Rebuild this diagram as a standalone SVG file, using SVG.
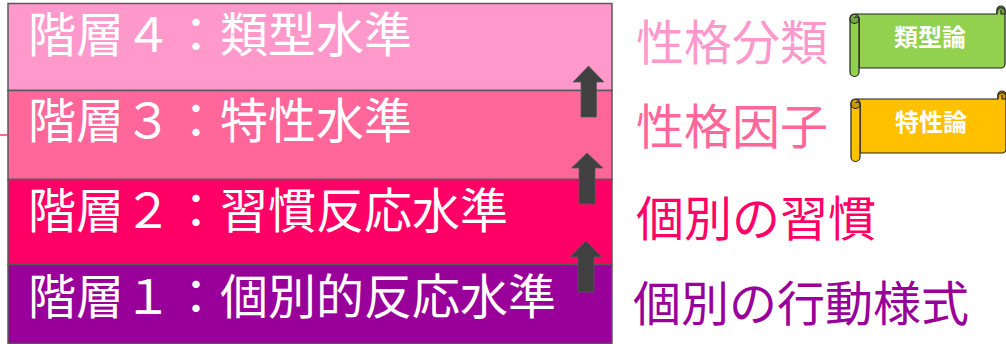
<svg xmlns="http://www.w3.org/2000/svg" width="1006" height="344" viewBox="0 0 1006 344">
<style>
.layer{stroke:#595959;stroke-width:1.5}
.t{font-family:"Noto Sans CJK JP","Noto Sans",sans-serif;font-size:48px}
.w{fill:#fff}
.arrow{fill:#404040;stroke:#595959;stroke-width:.75}
.scroll{stroke:#222;stroke-width:1.2}
.st{font-family:"Noto Sans CJK JP",sans-serif;font-size:24px;font-weight:700;fill:#fff;text-anchor:middle}
</style>
<rect width="1006" height="344" fill="#fff"/>
<g id="layer4"><rect class="layer" x="8" y="3.500" width="604" height="87" fill="#FF99CC"/><text class="t w" x="28" y="52">階層４：類型水準</text></g>
<g id="layer3"><rect class="layer" x="8" y="90.500" width="604" height="89" fill="#FF6699"/><text class="t w" x="28" y="138">階層３：特性水準</text></g>
<g id="layer2"><rect class="layer" x="8" y="179.500" width="604" height="85" fill="#FF0066"/><text class="t w" x="28" y="228">階層２：習慣反応水準</text></g>
<g id="layer1"><rect class="layer" x="8" y="264.500" width="604" height="79" fill="#990099"/><text class="t w" x="28" y="314">階層１：個別的反応水準</text></g>
<g id="connectors">
<path d="M0 135H7" stroke="#FF6699" stroke-width="2" fill="none"/>
<path class="arrow" d="M588.500 66L604 82H596.500V117H581V82H573Z"/>
<path class="arrow" d="M587 153L603 168H595V204H579V168H571.500Z"/>
<path class="arrow" d="M586 241L602 257H594V292H578V257H570Z"/>
</g>
<g id="label4"><text class="t" x="636" y="60" fill="#FF99CC">性格分類</text></g>
<g id="label3"><text class="t" x="636" y="144" fill="#FF6699">性格因子</text></g>
<g id="label2"><text class="t" x="636" y="236" fill="#FF0066">個別の習慣</text></g>
<g id="label1"><text class="t" x="633" y="321" fill="#990099">個別の行動様式</text></g>
<g id="scroll1">
<path class="scroll" fill="#92D050" d="M859 68V19A5 5 0 0 0 854 14H997V10A4 4 0 0 1 1005 10V64A4 4 0 0 1 1001 68Z"/>
<path class="scroll" fill="#92D050" d="M850 19A4.500 4.500 0 0 1 859 19V72A4.500 4.500 0 0 1 850 72Z"/>
<path class="scroll" fill="#74A640" d="M854.500 18A2.500 2.500 0 0 1 859 19A4.500 4.500 0 0 1 850 19A4.500 4.500 0 0 1 854 14"/>
<path class="scroll" fill="#74A640" d="M997 14V10A4.500 4.500 0 0 1 1005 10V14H1001V10"/>
<text class="st" x="930" y="46">類型論</text>
</g>
<g id="scroll2">
<path class="scroll" fill="#FFC000" d="M860 153V104A5 5 0 0 0 855 99H998V95A4 4 0 0 1 1006 95V149A4 4 0 0 1 1002 153Z"/>
<path class="scroll" fill="#FFC000" d="M851 104A4.500 4.500 0 0 1 860 104V157A4.500 4.500 0 0 1 851 157Z"/>
<path class="scroll" fill="#CC9A00" d="M855.500 103A2.500 2.500 0 0 1 860 104A4.500 4.500 0 0 1 851 104A4.500 4.500 0 0 1 855 99"/>
<path class="scroll" fill="#CC9A00" d="M998 99V95A4.500 4.500 0 0 1 1006 95V99H1002V95"/>
<text class="st" x="931" y="131">特性論</text>
</g>
</svg>
